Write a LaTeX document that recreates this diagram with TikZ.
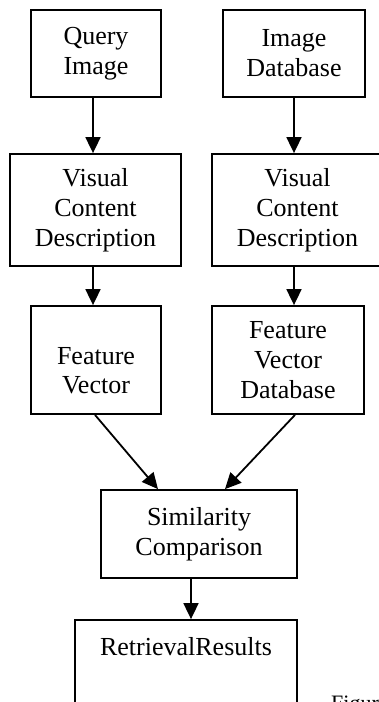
\documentclass[tikz,border=0pt]{standalone}
\usepackage{fontspec}
\setmainfont{Liberation Serif}
\usetikzlibrary{arrows.meta,calc}
\begin{document}
\begin{tikzpicture}[x=1pt,y=-1pt,
  box/.style={draw=black,line width=1.8pt,align=center,inner sep=0pt,
    font=\fontsize{26}{30}\selectfont},
  txt/.style={align=center,inner sep=0pt,font=\fontsize{26}{29}\selectfont},
  arr/.style={line width=1.8pt,-{Triangle[length=16pt,width=15pt]}},
  link/.style={line width=1.8pt}]
\useasboundingbox (0,0) rectangle (379,702);

% first row
\node[box,minimum width=130pt,minimum height=87pt] (q) at (96,53.5) {Query\\Image};
\node[box,minimum width=142pt,minimum height=87pt] (db) at (294,53.5) {Image\\Database};

% description stage
\node[box,minimum width=171pt,minimum height=112pt] (vl) at (95.5,210) {Visual\\Content\\Description};
\node[box,minimum width=171pt,minimum height=112pt] (vr) at (297.5,210) {Visual\\Content\\Description};

% feature stage
\node[box,minimum width=130pt,minimum height=108pt] (fv) at (96,360) {};
\node[txt] (fvt) at ([yshift=-11pt]fv.center) {Feature\\Vector};
\node[box,minimum width=152pt,minimum height=108pt] (fvd) at (288,360) {Feature\\Vector\\Database};

% comparison and results
\node[box,minimum width=196pt,minimum height=88pt] (sc) at (199,534) {Similarity\\Comparison};
\node[box,minimum width=222pt,minimum height=140pt] (rr) at (186,690) {};
\node[txt,anchor=base] (rrt) at (186,655) {RetrievalResults};
\node[inner sep=0pt,anchor=base west,font=\fontsize{22}{24}\selectfont] (fig) at (331,710) {Figure};

% connectors
\draw[arr] ([xshift=-3pt]q.south) -- ([xshift=-3pt]q.south |- vl.north);
\draw[arr] (db.south) -- (db.south |- vr.north);
\draw[arr] ([xshift=-2.5pt]vl.south) -- ([xshift=-2.5pt]vl.south |- fv.north);
\draw[arr] (db.south |- vr.south) -- (db.south |- fvd.north);
\draw[arr] ([xshift=-1pt]fv.south) -- ([xshift=-41pt]sc.north);
\draw[arr] ([xshift=7pt]fvd.south) -- ([xshift=26pt]sc.north);
\draw[arr] ([xshift=-8pt]sc.south) -- ([xshift=-8pt]sc.south |- rr.north);
\end{tikzpicture}
\end{document}
